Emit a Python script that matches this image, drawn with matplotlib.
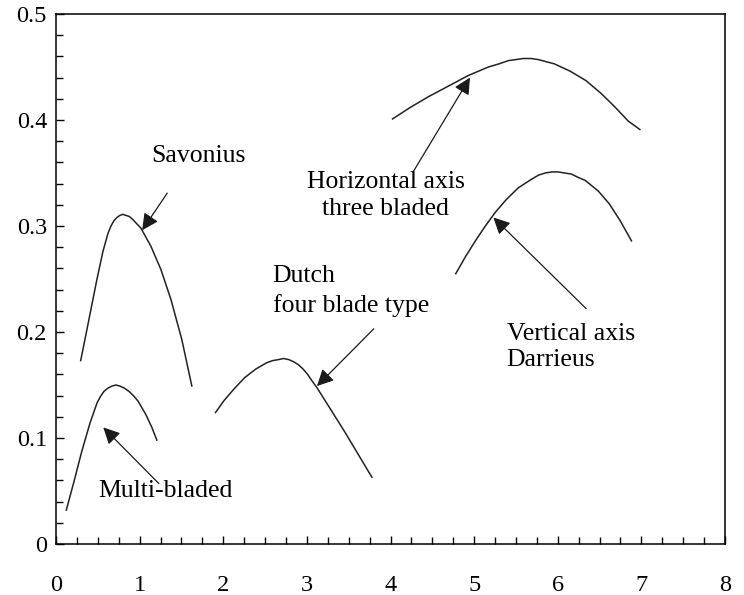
import numpy as np
import matplotlib.pyplot as plt
from matplotlib.ticker import MultipleLocator

plt.rcParams['font.family'] = ['Liberation Serif', 'DejaVu Serif']

# power coefficient curves, read as (tip speed ratio, Cp)
savonius_x = [0.295, 0.394, 0.490, 0.561, 0.621, 0.657, 0.693, 0.728, 0.764, 0.800, 0.836, 0.877,
              0.919, 0.967, 1.015, 1.134, 1.254, 1.373, 1.504, 1.624]
savonius_y = [0.173, 0.212, 0.250, 0.276, 0.293, 0.300, 0.305, 0.308, 0.310, 0.311, 0.310, 0.309,
              0.306, 0.302, 0.298, 0.281, 0.259, 0.231, 0.193, 0.149]

multi_x = [0.123, 0.215, 0.310, 0.406, 0.490, 0.530, 0.573, 0.620, 0.669, 0.716, 0.764, 0.818,
           0.872, 0.925, 0.979, 1.075, 1.146, 1.206]
multi_y = [0.032, 0.059, 0.088, 0.114, 0.133, 0.139, 0.144, 0.147, 0.149, 0.150, 0.149, 0.147,
           0.144, 0.140, 0.135, 0.122, 0.110, 0.098]

dutch_x = [1.907, 2.006, 2.125, 2.257, 2.388, 2.519, 2.590, 2.663, 2.720, 2.782, 2.840, 2.901,
           2.955, 3.009, 3.060, 3.116, 3.284, 3.451, 3.618, 3.777]
dutch_y = [0.124, 0.135, 0.146, 0.157, 0.165, 0.171, 0.173, 0.174, 0.175, 0.174, 0.172, 0.169,
           0.165, 0.160, 0.154, 0.148, 0.127, 0.106, 0.084, 0.063]

horiz_x = [4.024, 4.239, 4.454, 4.693, 4.931, 5.170, 5.300, 5.409, 5.500, 5.588, 5.680, 5.767,
           5.860, 5.958, 6.149, 6.340, 6.519, 6.687, 6.842, 6.982]
horiz_y = [0.401, 0.412, 0.422, 0.432, 0.442, 0.450, 0.453, 0.456, 0.457, 0.458, 0.458, 0.457,
           0.455, 0.453, 0.446, 0.437, 0.425, 0.412, 0.399, 0.391]

darrieus_x = [4.780, 4.896, 5.015, 5.134, 5.254, 5.385, 5.528, 5.684, 5.770, 5.851, 5.930, 6.006,
              6.080, 6.161, 6.240, 6.328, 6.484, 6.615, 6.746, 6.881]
darrieus_y = [0.255, 0.271, 0.286, 0.300, 0.313, 0.325, 0.336, 0.344, 0.348, 0.350, 0.351, 0.351,
              0.350, 0.349, 0.346, 0.343, 0.333, 0.321, 0.305, 0.286]

fig = plt.figure(figsize=(7.44, 5.95), dpi=100)
ax = fig.add_axes([0.0753, 0.0857, 0.8992, 0.8908])

for xs, ys in [(savonius_x, savonius_y), (multi_x, multi_y), (dutch_x, dutch_y),
               (horiz_x, horiz_y), (darrieus_x, darrieus_y)]:
    ax.plot(xs, ys, color='#222222', lw=1.1, solid_joinstyle='round')

arrow = dict(arrowstyle='-|>', color='#1a1a1a', lw=0.9, mutation_scale=25, shrinkA=0, shrinkB=0)
fs = 18.5

ax.annotate('', xy=(1.03, 0.296), xytext=(1.33, 0.331), arrowprops=arrow)
ax.text(1.70, 0.366, 'Savonius', fontsize=fs, ha='center', va='center')

ax.annotate('', xy=(0.565, 0.110), xytext=(1.23, 0.057), arrowprops=arrow)
ax.text(1.31, 0.050, 'Multi-bladed', fontsize=fs, ha='center', va='center')

ax.annotate('', xy=(3.12, 0.149), xytext=(3.80, 0.203), arrowprops=arrow)
ax.text(2.59, 0.239, 'Dutch\nfour blade type', fontsize=fs, ha='left', va='center', linespacing=1.4)

ax.annotate('', xy=(4.95, 0.440), xytext=(4.27, 0.351), arrowprops=arrow)
ax.text(3.94, 0.329, 'Horizontal axis\nthree bladed', fontsize=fs, ha='center', va='center', linespacing=1.28)

ax.annotate('', xy=(5.23, 0.308), xytext=(6.34, 0.222), arrowprops=arrow)
ax.text(5.39, 0.186, 'Vertical axis\nDarrieus', fontsize=fs, ha='left', va='center', linespacing=1.2)

ax.set_xlim(0, 8)
ax.set_ylim(0, 0.5)
ax.xaxis.set_major_locator(MultipleLocator(1))
ax.xaxis.set_minor_locator(MultipleLocator(0.25))
ax.yaxis.set_major_locator(MultipleLocator(0.1))
ax.yaxis.set_minor_locator(MultipleLocator(0.02))
ax.xaxis.set_major_formatter(plt.FuncFormatter(lambda v, p: '%g' % v))
ax.yaxis.set_major_formatter(plt.FuncFormatter(lambda v, p: '%g' % v))
ax.tick_params(which='both', direction='in', labelsize=17.5)
ax.tick_params(which='major', length=6, width=1)
ax.tick_params(which='minor', length=5, width=1)
ax.tick_params(axis='x', which='major', pad=22)
ax.tick_params(axis='y', which='major', pad=6.5)
for s in ax.spines.values():
    s.set_linewidth(1.1)

fig.savefig('out.png', dpi=100)
